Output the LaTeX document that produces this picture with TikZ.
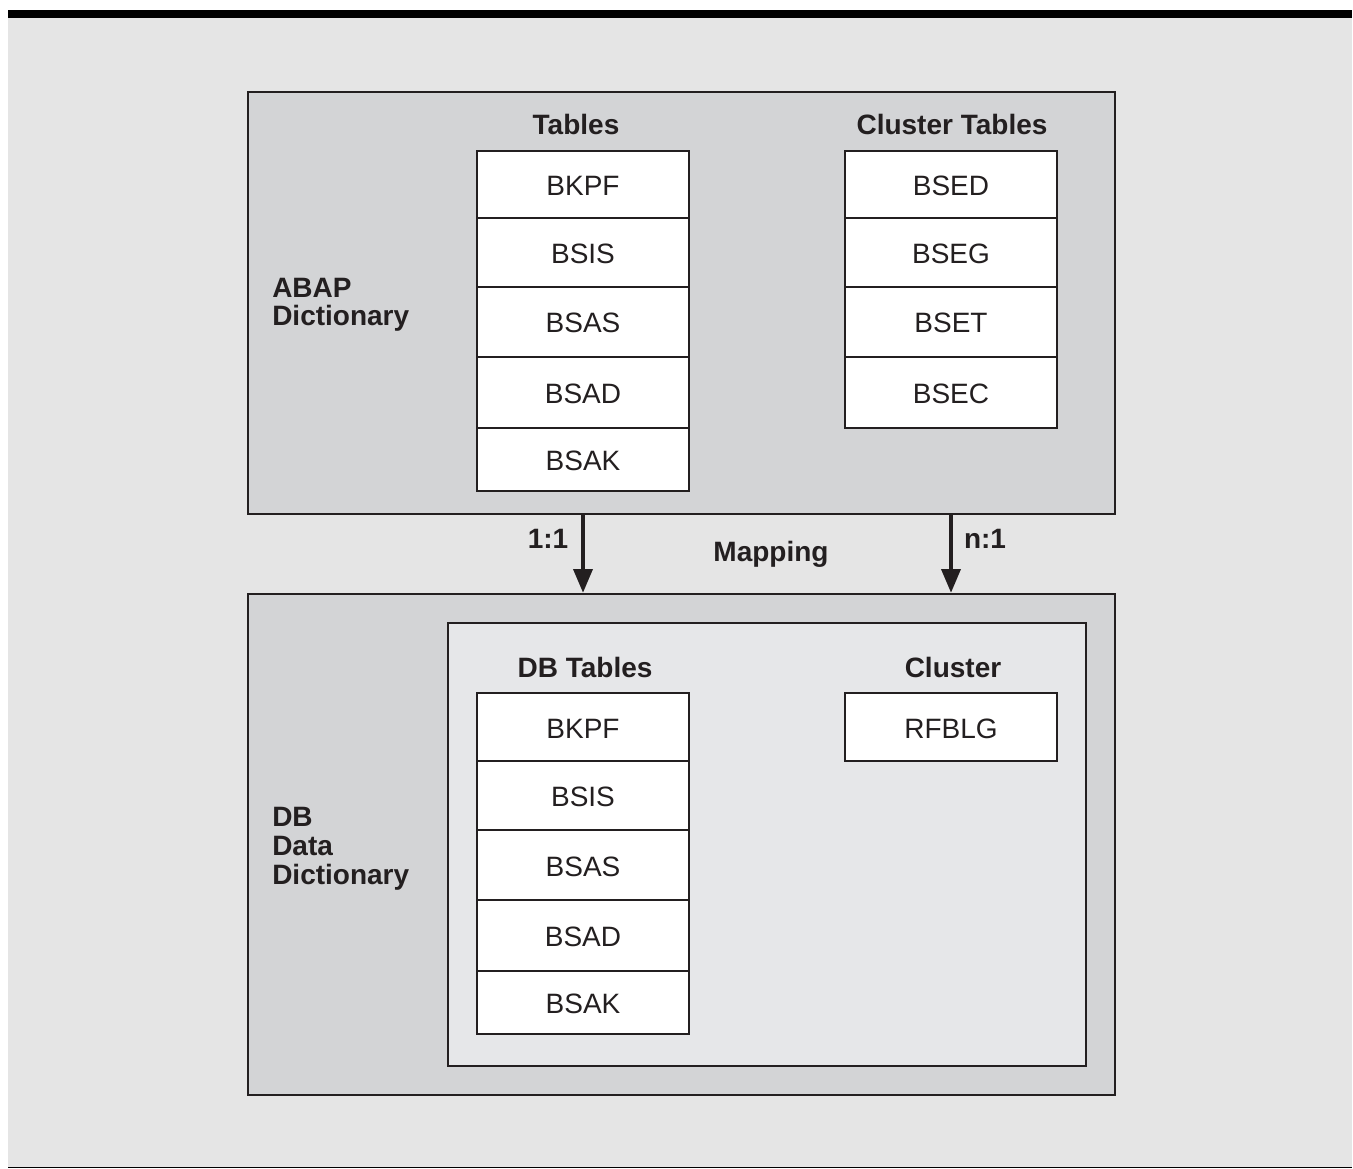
\documentclass[tikz,border=0pt]{standalone}
\usepackage{fontspec}
\setmainfont{Liberation Sans}
\usetikzlibrary{arrows.meta}
\definecolor{pagebg}{HTML}{E5E5E5}
\definecolor{panel}{HTML}{D3D4D6}
\definecolor{innerpanel}{HTML}{E6E7E9}
\definecolor{ink}{HTML}{231F20}
\tikzset{
  panelbox/.style={draw=ink, line width=1.5pt, fill=panel, inner sep=0pt},
  innerbox/.style={draw=ink, line width=1.5pt, fill=innerpanel, inner sep=0pt},
  cell/.style={draw=ink, line width=1.1pt, fill=white, inner sep=0pt,
    minimum width=159pt, text height=16.5pt, text depth=0pt,
    font=\fontsize{21}{21}\selectfont, text=ink},
  title/.style={anchor=base, inner sep=0pt, font=\fontsize{21}{21}\selectfont\bfseries, text=ink},
  sidelabel/.style={anchor=base west, inner sep=0pt, align=left,
    font=\fontsize{21}{21.4}\selectfont\bfseries, text=ink},
  maparrow/.style={draw=ink, line width=3.5pt, -{Triangle[length=18pt,width=14pt]}}
}
\begin{document}
\begin{tikzpicture}[x=0.75pt, y=-0.75pt]
  \useasboundingbox (0,0) rectangle (1353,1169);
  % page background with rule on top and bottom
  \fill[white] (0,0) rectangle (1353,1169);
  \fill[pagebg] (8,18) rectangle (1352,1167);
  \fill[black] (8,10) rectangle (1352,18);
  \fill[black] (8,1166.5) rectangle (1352,1168);

  % ABAP Dictionary panel
  \node[panelbox, minimum width=867*0.75pt, minimum height=422*0.75pt] (abap) at (681.5,303) {};
  \node[sidelabel] (abaplbl) at (272,326) {ABAP\\Dictionary};
  \node[title] (ttab) at (576,135) {Tables};
  \node[title] (tclu) at (952,135) {Cluster Tables};

  \node[cell, minimum height=67*0.75pt] (t1) at (583,184.5) {BKPF};
  \node[cell, minimum height=69*0.75pt] (t2) at (583,252.5) {BSIS};
  \node[cell, minimum height=70*0.75pt] (t3) at (583,322) {BSAS};
  \node[cell, minimum height=71*0.75pt] (t4) at (583,392.5) {BSAD};
  \node[cell, minimum height=63*0.75pt] (t5) at (583,459.5) {BSAK};

  \node[cell, minimum height=67*0.75pt] (c1) at (951,184.5) {BSED};
  \node[cell, minimum height=69*0.75pt] (c2) at (951,252.5) {BSEG};
  \node[cell, minimum height=70*0.75pt] (c3) at (951,322) {BSET};
  \node[cell, minimum height=71*0.75pt] (c4) at (951,392.5) {BSEC};

  % database data dictionary panel
  \node[panelbox, minimum width=867*0.75pt, minimum height=501*0.75pt] (dbd) at (681.5,844.5) {};
  \node[innerbox, minimum width=638*0.75pt, minimum height=443*0.75pt] (dbin) at (767,844.5) {};
  \node[sidelabel] (dblbl) at (272,884) {DB\\Data\\Dictionary};
  \node[title] (tdb) at (585,677) {DB Tables};
  \node[title] (tcl) at (953,677) {Cluster};

  \node[cell, minimum height=68*0.75pt] (d1) at (583,727) {BKPF};
  \node[cell, minimum height=69*0.75pt] (d2) at (583,795.5) {BSIS};
  \node[cell, minimum height=70*0.75pt] (d3) at (583,865) {BSAS};
  \node[cell, minimum height=71*0.75pt] (d4) at (583,935.5) {BSAD};
  \node[cell, minimum height=63*0.75pt] (d5) at (583,1002.5) {BSAK};

  \node[cell, minimum height=68*0.75pt] (r1) at (951,727) {RFBLG};

  % mapping arrows
  \draw[maparrow] (abap.south -| t1) -- (dbd.north -| t1);
  \draw[maparrow] (abap.south -| c1) -- (dbd.north -| c1);
  \node[title] (m11) at (548,548) {1:1};
  \node[title] (mn1) at (985,548) {n:1};
  \node[title] (map) at (771,561) {Mapping};
\end{tikzpicture}
\end{document}
